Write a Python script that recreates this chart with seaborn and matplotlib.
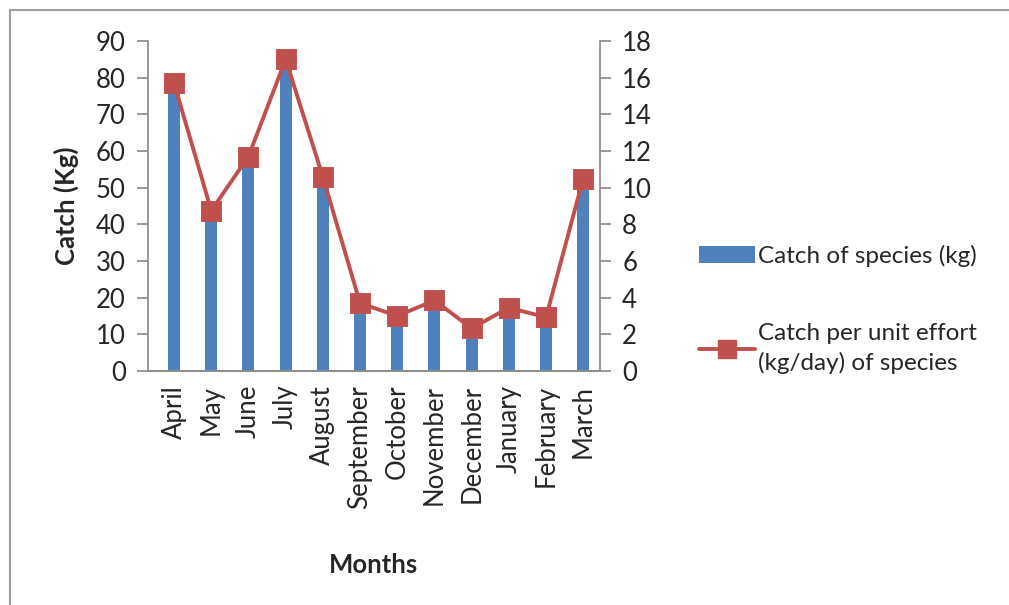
import numpy as np
import pandas as pd
import matplotlib
matplotlib.use("Agg")
import matplotlib.pyplot as plt
import seaborn as sns
from matplotlib.lines import Line2D
from matplotlib.patches import Patch, Rectangle

months = ["April", "May", "June", "July", "August", "September", "October",
          "November", "December", "January", "February", "March"]
catch_kg = [77, 43, 57, 84, 52, 18, 14, 18, 11, 16, 14, 51]
cpue = [15.7, 8.75, 11.7, 17.0, 10.6, 3.7, 3.0, 3.85, 2.33, 3.45, 2.93, 10.5]

df = pd.DataFrame({"Month": months, "Catch": catch_kg, "CPUE": cpue})

sns.set_theme(style="white")
plt.rcParams["font.family"] = ["Lato", "DejaVu Sans"]

blue = "#4F81BD"
red = "#C0504D"
grey = "#8C8C8C"
fs = 18.5

fig = plt.figure(figsize=(10.09, 6.05), dpi=100)
ax = fig.add_axes([0.1467, 0.3868, 0.4479, 0.5454])
ax2 = ax.twinx()

sns.barplot(data=df, x="Month", y="Catch", ax=ax, color=blue, width=0.32,
            saturation=1, edgecolor="none")
sns.pointplot(data=df, x="Month", y="CPUE", ax=ax2, color=red, markers="s",
              markersize=13, linewidth=2.8)

ax.set_ylim(0, 90)
ax2.set_ylim(0, 18)
ax.set_yticks(range(0, 91, 10))
ax2.set_yticks(range(0, 19, 2))
ax.set_xlim(-0.7, 11.45)
ax2.set_xlim(-0.7, 11.45)

for a in (ax, ax2):
    for s in a.spines.values():
        s.set_color(grey)
    a.spines["top"].set_visible(False)
ax.spines["right"].set_visible(False)
ax2.spines["left"].set_visible(False)

ax.tick_params(axis="y", which="both", left=True, length=8, color=grey,
               labelsize=fs, pad=8)
ax2.tick_params(axis="y", right=True, length=8, color=grey, labelsize=fs, pad=8)
ax.tick_params(axis="x", bottom=False, labelsize=fs, pad=4)
plt.setp(ax.get_xticklabels(), rotation=90)

ax.set_ylabel("Catch (Kg)", fontsize=fs, fontweight="bold", labelpad=12)
ax.set_xlabel("Months", fontsize=fs, fontweight="bold", labelpad=32)
ax2.set_ylabel("")

handles = [Patch(facecolor=blue, edgecolor="none"),
           Line2D([0], [0], color=red, lw=2.8, marker="s", markersize=13)]
labels = ["Catch of species (kg)", "Catch per unit effort\n(kg/day) of species"]
leg = fig.legend(handles, labels, loc="center left", bbox_to_anchor=(0.683, 0.488),
                 frameon=False, fontsize=17.5, handlelength=2.3, handleheight=0.7,
                 handletextpad=0.12, labelspacing=2.3, borderaxespad=0)
for t in leg.get_texts():
    t.set_linespacing(1.45)

fig.patches.append(Rectangle((10 / 1009, -0.1), 1.2, 1 - 10 / 605 + 0.1,
                             transform=fig.transFigure, fill=False,
                             edgecolor="#A0A0A0", lw=1.5))

fig.savefig("out.png", dpi=100)
